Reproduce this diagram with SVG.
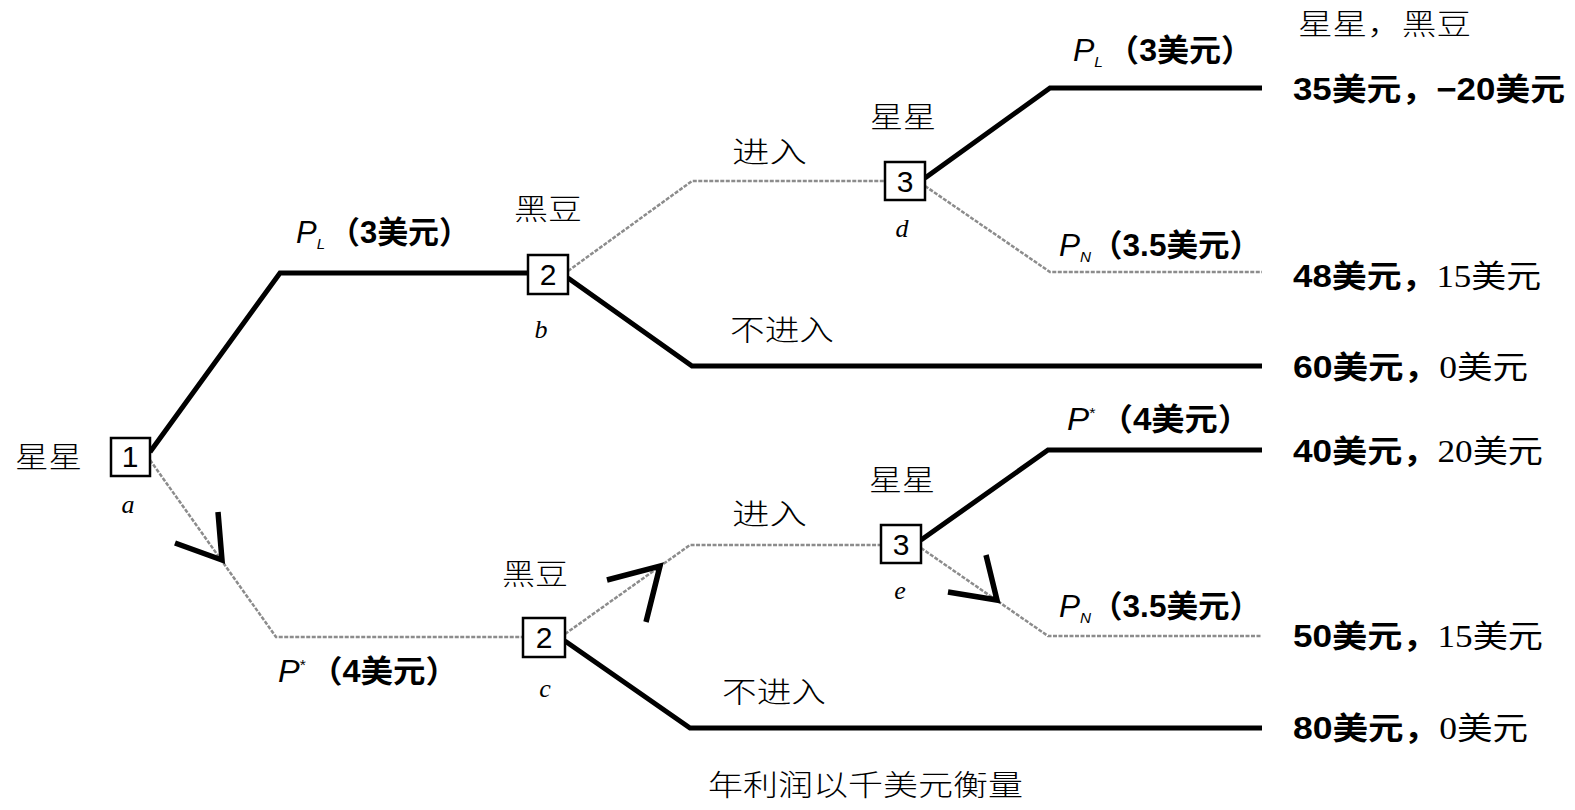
<svg xmlns="http://www.w3.org/2000/svg" width="1575" height="810" viewBox="0 0 1575 810">
<style>
.thick{fill:none;stroke:#000;stroke-width:5;stroke-linejoin:miter}
.dot{fill:none;stroke:#8c8c8c;stroke-width:2.5;stroke-dasharray:4 1.5}
.chev{fill:none;stroke:#000;stroke-width:5.5;stroke-linejoin:miter;stroke-linecap:butt}
.box{fill:#fff;stroke:#000;stroke-width:2.5}
.num{font-family:"Liberation Sans",Arial,sans-serif;font-size:30px;text-anchor:middle}
.cj{font-family:"Noto Sans CJK SC","Noto Sans",sans-serif;font-size:29px;font-weight:300}
.lab{font-family:"Liberation Serif","Times New Roman",serif;font-style:italic;font-size:26px;text-anchor:middle}
.pl{font-family:"Liberation Sans","Noto Sans CJK SC",sans-serif;font-size:31px}
.pi{font-style:italic;font-weight:normal}
.pb{font-weight:bold}
.pay{font-family:"Liberation Sans","Noto Sans CJK SC",sans-serif;font-size:31px;font-weight:bold}
.ser{font-family:"Liberation Serif","Noto Sans CJK SC",serif;font-weight:normal}
</style>
<rect width="1575" height="810" fill="#fff"/>
<g id="connectors">
<polyline class="thick" points="150,452 280,273 528,273"/>
<polyline class="dot" points="150,460 276,637 523,637"/>
<polyline class="dot" points="568,271 692,181 885,181"/>
<polyline class="thick" points="568,278 692,366 1262,366"/>
<polyline class="thick" points="925,178 1050,88 1262,88"/>
<polyline class="dot" points="925,186 1050,272 1262,272"/>
<polyline class="dot" points="565,634 690,545 881,545"/>
<polyline class="thick" points="565,641 690,728 1262,728"/>
<polyline class="thick" points="921,540 1048,450 1262,450"/>
<polyline class="dot" points="921,548 1048,636 1262,636"/>
<polyline class="chev" points="175,543 222,560 218,512"/>
<polyline class="chev" points="607,580 660,566 646,622"/>
<polyline class="chev" points="948,592 997,600 986,555"/>
</g>
<g id="node-a">
<rect class="box" x="111" y="438" width="39" height="38"/>
<text class="num" x="130" y="467">1</text>
<text class="cj" x="15" y="468" textLength="67" lengthAdjust="spacingAndGlyphs">星星</text>
<text class="lab" x="128" y="513">a</text>
</g>
<g id="node-b">
<rect class="box" x="528" y="255" width="40" height="39"/>
<text class="num" x="548" y="285">2</text>
<text class="cj" x="514" y="220" textLength="68" lengthAdjust="spacingAndGlyphs">黑豆</text>
<text class="lab" x="541" y="338">b</text>
</g>
<g id="node-c">
<rect class="box" x="523" y="618" width="42" height="39"/>
<text class="num" x="544" y="648">2</text>
<text class="cj" x="502" y="585" textLength="66" lengthAdjust="spacingAndGlyphs">黑豆</text>
<text class="lab" x="545" y="697">c</text>
</g>
<g id="node-d">
<rect class="box" x="885" y="162" width="40" height="38"/>
<text class="num" x="905" y="192">3</text>
<text class="cj" x="870" y="128" textLength="66" lengthAdjust="spacingAndGlyphs">星星</text>
<text class="lab" x="902" y="237">d</text>
</g>
<g id="node-e">
<rect class="box" x="881" y="525" width="40" height="38"/>
<text class="num" x="901" y="555">3</text>
<text class="cj" x="869" y="491" textLength="66" lengthAdjust="spacingAndGlyphs">星星</text>
<text class="lab" x="900" y="599">e</text>
</g>
<g id="edge-labels">
<text class="pl" x="296" y="243" textLength="174" lengthAdjust="spacingAndGlyphs"><tspan class="pi">P</tspan><tspan class="pi" font-size="15" dy="6">L</tspan><tspan class="pb" dy="-6" dx="4">（3美元）</tspan></text>
<text class="pl" x="278" y="682" textLength="180" lengthAdjust="spacingAndGlyphs"><tspan class="pi">P</tspan><tspan font-size="15" dy="-12">*</tspan><tspan class="pb" dy="12" dx="4">（4美元）</tspan></text>
<text class="pl" x="1073" y="61" textLength="180" lengthAdjust="spacingAndGlyphs"><tspan class="pi">P</tspan><tspan class="pi" font-size="15" dy="6">L</tspan><tspan class="pb" dy="-6" dx="4">（3美元）</tspan></text>
<text class="pl" x="1059" y="256" textLength="202" lengthAdjust="spacingAndGlyphs"><tspan class="pi">P</tspan><tspan class="pi" font-size="15" dy="6">N</tspan><tspan class="pb" dy="-6">（3.5美元）</tspan></text>
<text class="pl" x="1067" y="430" textLength="184" lengthAdjust="spacingAndGlyphs"><tspan class="pi">P</tspan><tspan font-size="15" dy="-12">*</tspan><tspan class="pb" dy="12" dx="4">（4美元）</tspan></text>
<text class="pl" x="1059" y="617" textLength="202" lengthAdjust="spacingAndGlyphs"><tspan class="pi">P</tspan><tspan class="pi" font-size="15" dy="6">N</tspan><tspan class="pb" dy="-6">（3.5美元）</tspan></text>
<text class="cj" x="732" y="163" textLength="75" lengthAdjust="spacingAndGlyphs">进入</text>
<text class="cj" x="732" y="525" textLength="75" lengthAdjust="spacingAndGlyphs">进入</text>
<text class="cj" x="730" y="341" textLength="104" lengthAdjust="spacingAndGlyphs">不进入</text>
<text class="cj" x="722" y="703" textLength="104" lengthAdjust="spacingAndGlyphs">不进入</text>
</g>
<g id="payoffs">
<text class="cj" x="1298" y="35" textLength="173" lengthAdjust="spacingAndGlyphs">星星，黑豆</text>
<text class="pay" x="1293" y="100" textLength="272" lengthAdjust="spacingAndGlyphs">35美元，−20美元</text>
<text class="pay" x="1293" y="287" textLength="248" lengthAdjust="spacingAndGlyphs">48美元，<tspan class="ser">15美元</tspan></text>
<text class="pay" x="1293" y="378" textLength="235" lengthAdjust="spacingAndGlyphs">60美元，<tspan class="ser">0美元</tspan></text>
<text class="pay" x="1293" y="462" textLength="250" lengthAdjust="spacingAndGlyphs">40美元，<tspan class="ser">20美元</tspan></text>
<text class="pay" x="1293" y="647" textLength="250" lengthAdjust="spacingAndGlyphs">50美元，<tspan class="ser">15美元</tspan></text>
<text class="pay" x="1293" y="739" textLength="235" lengthAdjust="spacingAndGlyphs">80美元，<tspan class="ser">0美元</tspan></text>
</g>
<text class="cj" x="708" y="796" textLength="315" lengthAdjust="spacingAndGlyphs">年利润以千美元衡量</text>
</svg>
